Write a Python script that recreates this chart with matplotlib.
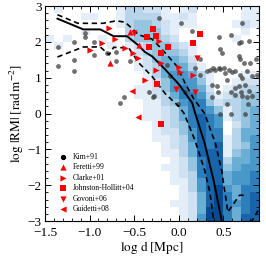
import numpy as np
import matplotlib
matplotlib.use("Agg")
import matplotlib.pyplot as plt
from matplotlib.ticker import MultipleLocator

plt.rcParams["font.family"] = ["Liberation Serif", "DejaVu Serif"]
plt.rcParams["mathtext.fontset"] = "stix"

# ----------------------------
# Data
# ----------------------------
# 2D histogram, rows from top (y 2.8..3.0) to bottom (y -3.0..-2.8),
# columns x -1.5..0.9 in steps of 0.1; digit = shade level (0 = empty)
hist_rows = [
    "010000001332210120000011",
    "000011001333311210000011",
    "000000001344321110000121",
    "000010000344421000000010",
    "101000100344432000000100",
    "010000010123443210000000",
    "000000000023444310000000",
    "000000000012455420000000",
    "000000000012355531000000",
    "000000000001356653100011",
    "000000000001246664100122",
    "000000000011246765201233",
    "000000000011235776312334",
    "000000000001134677423344",
    "000000000001123577641345",
    "000000000001123578761345",
    "000000000000123478760245",
    "000000000000122468770355",
    "000000000000112368771356",
    "000000000000012358781346",
    "000000000000011358881456",
    "000000000000001247883556",
    "000000000000011247884566",
    "000000000000001237885667",
    "000000000000001136885667",
    "000000000000000136896577",
    "000000000000000125897578",
    "000000000000001125897678",
    "000000000000000125997578",
    "000000000000000126997588",
]
x_edges = np.linspace(-1.5, 0.9, 25)
y_edges = np.linspace(-3.0, 3.0, 31)

# median and percentile curves
med_x = [-1.36, -1.07, -0.88, -0.73, -0.58, -0.45, -0.38, -0.30, -0.155, 0.0, 0.15, 0.185, 0.29, 0.39, 0.48, 0.50]
med_y = [2.65, 2.35, 2.35, 2.16, 2.16, 1.90, 1.72, 1.60, 1.24, 0.82, 0.30, 0.0, -0.83, -1.86, -2.98, -3.3]
up_x = [-1.36, -1.13, -0.85, -0.70, -0.60, -0.45, -0.30, -0.19, -0.02, 0.07, 0.17, 0.29, 0.41, 0.48, 0.55, 0.68, 0.76]
up_y = [2.76, 2.52, 2.52, 2.59, 2.55, 2.20, 2.08, 1.80, 1.32, 0.85, 0.40, 0.0, -0.83, -1.58, -2.75, -2.28, -2.28]
lo_x = [-1.36, -1.07, -0.88, -0.78, -0.73, -0.56, -0.45, -0.30, -0.15, 0.0, 0.06, 0.18, 0.29, 0.35, 0.39, 0.41, 0.60, 0.80, 0.90]
lo_y = [1.58, 1.86, 1.86, 1.64, 1.85, 1.83, 1.42, 1.04, 0.55, 0.20, 0.0, -0.74, -1.58, -2.22, -2.98, -3.3, -6.0, -3.08, -2.66]

# Kim+91 points
kim_x = [-1.35, -1.35, -1.18, -1.18, -1.18, -1.05, -1.05, -0.95, -0.95, -0.81,
         -0.70, -0.70, -0.55, -0.66, -0.61, -0.33, -0.275, -0.005, 0.07, 0.37,
         0.44, 0.54, 0.59, 0.70, 0.76, 0.78, 0.46, 0.59, 0.74, -0.225,
         0.029, 0.148, 0.447, 0.59, 0.71, 0.70, 0.79, 0.67, 0.466, 0.485,
         0.67, 0.69, 0.73, 0.795, 0.87, 0.242, 0.186, 0.317, 0.354, 0.384,
         0.41, 0.447, 0.466, 0.503, 0.522, 0.56, 0.597, 0.634, 0.69, 0.709,
         0.765, 0.82, 0.877, 0.54, 0.429, 0.634, 0.67, 0.746, 0.709, 0.784,
         0.82, 0.373, 0.242, 0.634, -0.13, -0.10, -0.29]
kim_y = [1.86, 1.33, 2.00, 1.49, 1.18, 2.24, 2.14, 2.00, 1.63, 1.70,
         1.72, 1.46, 1.46, 0.30, 0.47, 0.61, 0.49, 0.28, 0.61, 0.47,
         0.61, 0.28, 0.61, 0.61, 0.47, 0.28, -0.02, -0.02, -0.02, 2.68,
         2.52, 2.30, 2.14, 2.19, 2.53, 1.99, 2.02, 1.96, 1.79, 1.70,
         1.60, 1.53, 1.42, 1.42, 1.53, 1.53, 1.28, 1.18, 1.23, 1.26,
         1.23, 1.28, 1.25, 1.28, 1.14, 1.23, 1.16, 1.18, 1.09, 1.00,
         1.18, 1.04, 1.09, 0.95, 0.77, 0.72, 0.77, 0.81, 0.49, 0.63,
         0.49, 0.81, 1.09, 0.53, 1.35, 1.05, 0.47]

fer_x = [-0.77, -0.55, -0.45]
fer_y = [1.40, 2.28, 1.91]
cla_x = [-0.78, -0.86, -1.00, -0.71, -0.60, -0.51, -0.46, -0.20, -0.25, -0.38, 0.0, 0.01, 0.16, -0.22]
cla_y = [2.39, 1.97, 1.78, 2.08, 1.83, 1.70, 1.54, 1.40, 1.21, 0.95, 1.30, 1.16, 1.07, 2.02]
joh_x = [-0.29, -0.25, -0.36, -0.33, -0.12, 0.16, 0.24, -0.20, -0.24, -0.20]
joh_y = [2.35, 2.16, 2.14, 1.86, 1.86, 1.98, 2.21, 1.68, 0.82, -0.30]
gov_x = [0.20, -0.03, 0.18, -0.50]
gov_y = [1.54, 0.70, 0.61, 2.25]
gui_x = [-0.52, -0.46]
gui_y = [0.63, -0.09]

# ----------------------------
# Plot
# ----------------------------
H = np.array([[int(c) for c in row] for row in hist_rows], dtype=float)[::-1]
H = np.ma.masked_where(H == 0, H)

fig = plt.figure(figsize=(2.66, 2.66), dpi=100)
ax = fig.add_axes([0.169, 0.169, 0.805, 0.808])

ax.pcolormesh(x_edges, y_edges, H, cmap="Blues", vmin=0, vmax=10, zorder=0)

dash = (0, (3.2, 2.2))
ax.plot(med_x, med_y, color="k", lw=1.4, zorder=3)
ax.plot(up_x, up_y, color="k", lw=1.2, ls=dash, zorder=3)
ax.plot(lo_x, lo_y, color="k", lw=1.2, ls=dash, zorder=3)

ax.scatter(kim_x, kim_y, s=12, color="0.25", alpha=0.75, lw=0, zorder=2)
ax.scatter([], [], s=8, color="k", label="Kim+91")
ax.scatter(fer_x, fer_y, s=20, marker="^", color="red", lw=0, zorder=4, label="Feretti+99")
ax.scatter(cla_x, cla_y, s=20, marker=">", color="red", lw=0, zorder=4, label="Clarke+01")
ax.scatter(joh_x, joh_y, s=16, marker="s", color="red", lw=0, zorder=4, label="Johnston-Hollitt+04")
ax.scatter(gov_x, gov_y, s=20, marker="v", color="red", lw=0, zorder=4, label="Govoni+06")
ax.scatter(gui_x, gui_y, s=20, marker="<", color="red", lw=0, zorder=4, label="Guidetti+08")

ax.set_xlim(-1.5, 0.9)
ax.set_ylim(-3, 3)
ax.xaxis.set_major_locator(MultipleLocator(0.5))
ax.xaxis.set_minor_locator(MultipleLocator(0.1))
ax.yaxis.set_major_locator(MultipleLocator(1))
ax.yaxis.set_minor_locator(MultipleLocator(0.2))
ax.tick_params(which="both", direction="in", top=True, right=True, labelsize=9.5)
ax.tick_params(which="major", length=4, width=0.7)
ax.tick_params(which="minor", length=2, width=0.6)
ax.tick_params(axis="x", pad=4)
ax.tick_params(axis="y", pad=2.5)
for s in ax.spines.values():
    s.set_linewidth(0.8)

ax.set_xlabel(r"$\log\,{\rm d}\;[{\rm Mpc}]$", fontsize=9.5, labelpad=0)
ax.set_ylabel(r"$\log\,|{\rm RM}|\;[{\rm rad\,m^{-2}}]$", fontsize=9.5, labelpad=1)

leg = ax.legend(loc="lower left", bbox_to_anchor=(0.045, 0.015), frameon=False,
                fontsize=5.5, handletextpad=0.8, labelspacing=0.33,
                handlelength=1.0, borderaxespad=0.2)

plt.savefig("out.png", dpi=100)
plt.close()
